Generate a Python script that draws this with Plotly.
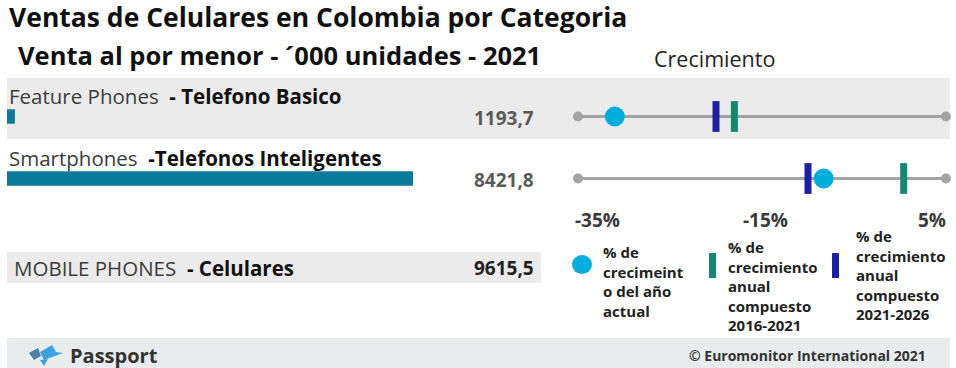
import plotly.graph_objects as go

# ---------------- data ----------------
categories = ["Feature Phones", "Smartphones"]
labels_en = ["Feature Phones", "Smartphones"]
labels_es = ["- Telefono Basico", "-Telefonos Inteligentes"]
sales = [1193.7, 8421.8]
total_label_en = "MOBILE PHONES"
total_label_es = "- Celulares"
total_sales = 9615.5
growth_current = [-31.0, -8.3]
cagr_2016_2021 = [-18.0, 0.4]
cagr_2021_2026 = [-20.0, -10.0]
growth_ticks = [-35, -15, 5]
growth_tick_labels = ["-35%", "-15%", "5%"]
legend_labels = [
    "% de<br>crecimeint<br>o del año<br>actual",
    "% de<br>crecimiento<br>anual<br>compuesto<br>2016-2021",
    "% de<br>crecimiento<br>anual<br>compuesto<br>2021-2026",
]
title = "Ventas de Celulares en Colombia por Categoria"
subtitle = "Venta al por menor - ´000 unidades - 2021"
growth_title = "Crecimiento"
footer_left = "Passport"
footer_right = "© Euromonitor International 2021"

# ---------------- styling ----------------
W, H = 956, 368
FONT = "Open Sans"
C_BAR = "#0B7B9B"
C_CUR = "#00AEDD"
C_G1 = "#13896E"
C_G2 = "#1E1EA6"
C_LINE = "#A3A3A3"
C_BAND = "#EBEBEB"


def px(x):
    return x / W


def py(y):
    return 1 - y / H


def fmt(v):
    return f"{v:.1f}".replace(".", ",")


fig = go.Figure()

# bars (axis baseline offset like the original)
fig.add_trace(go.Bar(
    y=categories, x=sales, orientation="h",
    marker=dict(color=C_BAR, line=dict(width=0)), width=0.23,
    xaxis="x", yaxis="y", hoverinfo="skip", showlegend=False,
))

# growth rows
for cat in categories:
    fig.add_trace(go.Scatter(
        x=[growth_ticks[0], growth_ticks[-1]], y=[cat, cat], mode="lines+markers",
        line=dict(color=C_LINE, width=3), marker=dict(size=10, color=C_LINE),
        xaxis="x2", yaxis="y", hoverinfo="skip", showlegend=False, cliponaxis=False,
    ))
fig.add_trace(go.Scatter(
    x=cagr_2016_2021, y=categories, mode="markers",
    marker=dict(symbol="line-ns", size=22, line=dict(width=7, color=C_G1)),
    xaxis="x2", yaxis="y", hoverinfo="skip", showlegend=False, cliponaxis=False,
))
fig.add_trace(go.Scatter(
    x=cagr_2021_2026, y=categories, mode="markers",
    marker=dict(symbol="line-ns", size=22, line=dict(width=7, color=C_G2)),
    xaxis="x2", yaxis="y", hoverinfo="skip", showlegend=False, cliponaxis=False,
))
fig.add_trace(go.Scatter(
    x=growth_current, y=categories, mode="markers",
    marker=dict(size=20, color=C_CUR, line=dict(width=0)),
    xaxis="x2", yaxis="y", hoverinfo="skip", showlegend=False, cliponaxis=False,
))

shapes = [
    dict(type="rect", xref="paper", yref="paper", x0=px(7), x1=px(950), y0=py(139), y1=py(78),
         fillcolor=C_BAND, line=dict(width=0), layer="below"),
    dict(type="rect", xref="paper", yref="paper", x0=px(7), x1=px(541), y0=py(283), y1=py(252),
         fillcolor=C_BAND, line=dict(width=0), layer="below"),
    dict(type="rect", xref="paper", yref="paper", x0=px(7), x1=px(950), y0=py(368), y1=py(338),
         fillcolor="#E8ECEC", line=dict(width=0), layer="below"),
    # legend glyphs
    dict(type="circle", xref="paper", yref="paper", x0=px(572), x1=px(592), y0=py(274), y1=py(255),
         fillcolor=C_CUR, line=dict(width=0)),
    dict(type="rect", xref="paper", yref="paper", x0=px(709), x1=px(716), y0=py(278), y1=py(253),
         fillcolor=C_G1, line=dict(width=0)),
    dict(type="rect", xref="paper", yref="paper", x0=px(832), x1=px(839), y0=py(278), y1=py(253),
         fillcolor=C_G2, line=dict(width=0)),
    # Passport logo (approximate)
    dict(type="path", xref="paper", yref="paper",
         path=f"M {px(40)} {py(352)} L {px(52)} {py(345)} L {px(56)} {py(352)} L {px(63)} {py(353)} L {px(52)} {py(357)} L {px(44)} {py(360)} Z",
         fillcolor="#3AA3DD", line=dict(width=0)),
    dict(type="path", xref="paper", yref="paper",
         path=f"M {px(29)} {py(353)} L {px(38)} {py(348)} L {px(41)} {py(356)} L {px(34)} {py(360)} Z",
         fillcolor="#4F7FA8", line=dict(width=0)),
    dict(type="path", xref="paper", yref="paper",
         path=f"M {px(40)} {py(360)} L {px(48)} {py(359)} L {px(44)} {py(366)} Z",
         fillcolor="#3AA3DD", line=dict(width=0)),
]

ann = []
ann.append(dict(text=f"<b>{title}</b>", x=px(7), y=py(17.5), xanchor="left", yanchor="middle",
                font=dict(size=26.5, color="#111111", family=FONT)))
ann.append(dict(text=f"<b>{subtitle}</b>", x=px(16), y=py(55), xanchor="left", yanchor="middle",
                font=dict(size=25.5, color="#111111", family=FONT)))
ann.append(dict(text=growth_title, x=px(652), y=py(58), xanchor="left", yanchor="middle",
                font=dict(size=21.5, color="#222222", family=FONT)))

for cat, en, es, v in zip(categories, labels_en, labels_es, sales):
    ann.append(dict(text=f"<span style='color:#3c3c3c'>{en}</span>  <b>{es}</b>",
                    xref="paper", yref="y", x=px(7), y=cat, yshift=21,
                    xanchor="left", yanchor="middle",
                    font=dict(size=20.5, color="#111111", family=FONT)))
    ann.append(dict(text=f"<b>{fmt(v)}</b>", xref="paper", yref="y", x=px(536), y=cat, yshift=-1,
                    xanchor="right", yanchor="middle",
                    font=dict(size=19, color="#5a5a5a", family=FONT)))

ann.append(dict(text=f"<span style='color:#3c3c3c'>{total_label_en}</span>  <b>{total_label_es}</b>",
                x=px(12), y=py(268), xanchor="left", yanchor="middle",
                font=dict(size=20.5, color="#111111", family=FONT)))
ann.append(dict(text=f"<b>{fmt(total_sales)}</b>", x=px(536), y=py(268), xanchor="right", yanchor="middle",
                font=dict(size=19, color="#222222", family=FONT)))

anchors = ["left", "center", "right"]
shifts = [-5, 3, 2]
for t, lab, a, s in zip(growth_ticks, growth_tick_labels, anchors, shifts):
    ann.append(dict(text=f"<b>{lab}</b>", xref="x2", yref="paper", x=t, y=py(220), xshift=s,
                    xanchor=a, yanchor="middle",
                    font=dict(size=19, color="#3a3a3a", family=FONT)))

leg_pos = [(601, 281), (726, 286), (854, 275)]
for lab, (lx, ly) in zip(legend_labels, leg_pos):
    ann.append(dict(text=f"<b>{lab}</b>", x=px(lx), y=py(ly), xanchor="left", yanchor="middle",
                    align="left", font=dict(size=15, color="#222222", family=FONT)))

ann.append(dict(text=f"<b>{footer_left}</b>", x=px(68), y=py(355), xanchor="left", yanchor="middle",
                font=dict(size=20, color="#333333", family=FONT)))
ann.append(dict(text=f"<b>{footer_right}</b>", x=px(928), y=py(355), xanchor="right", yanchor="middle",
                font=dict(size=14, color="#333333", family=FONT)))

for a in ann:
    a.setdefault("xref", "paper")
    a.setdefault("yref", "paper")
    a["showarrow"] = False

# axes: y rows 0/1 at 116.5 / 178.5 px (62 px per row)
fig.update_layout(
    width=W, height=H, margin=dict(l=0, r=0, t=0, b=0),
    paper_bgcolor="white", plot_bgcolor="rgba(0,0,0,0)",
    xaxis=dict(domain=[px(7), px(541)], range=[1050, 10746], visible=False, fixedrange=True),
    xaxis2=dict(domain=[px(578), px(946)], range=[growth_ticks[0], growth_ticks[-1]],
                visible=False, anchor="y", fixedrange=True),
    yaxis=dict(domain=[py(240.5), py(54.5)], type="category", categoryorder="array",
               categoryarray=categories, range=[2, -1], visible=False, fixedrange=True),
    shapes=shapes, annotations=ann, showlegend=False,
)

fig.write_html("out.html")
